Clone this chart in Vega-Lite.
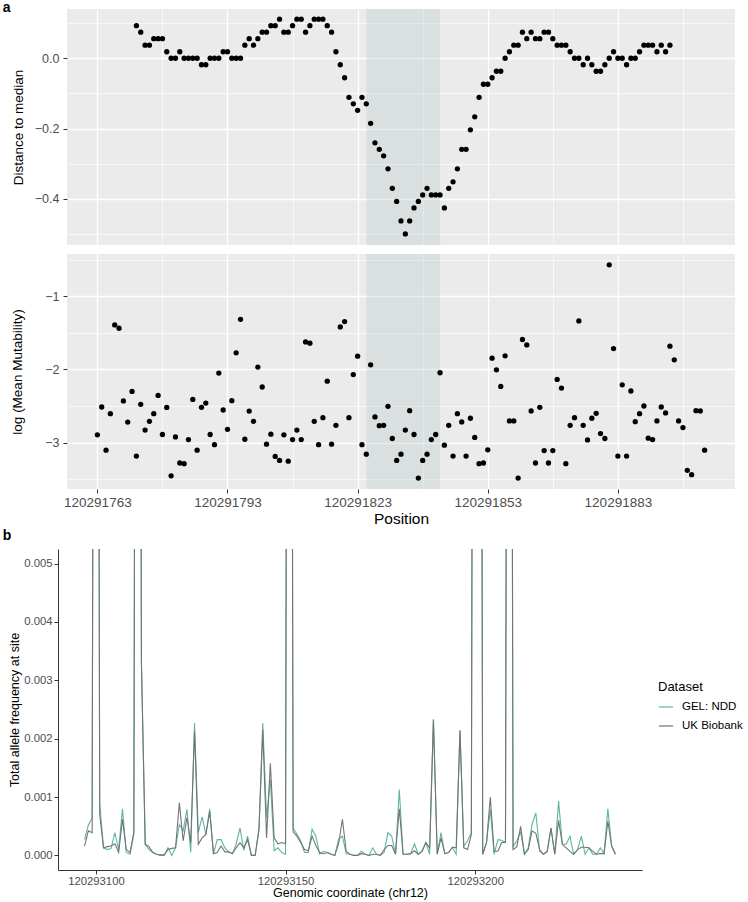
{
  "$schema": "https://vega.github.io/schema/vega-lite/v6.json",
  "background": "white",
  "padding": {"left": 2, "top": 1, "right": 2, "bottom": 2},
  "config": {
    "font": "Liberation Sans",
    "view": {"stroke": null},
    "axis": {"labelFont": "Liberation Sans", "titleFont": "Liberation Sans", "titleFontWeight": "normal", "labelColor": "#4D4D4D", "titleColor": "#000000", "tickColor": "#333333", "labelFlush": false, "labelOverlap": false},
    "title": {"font": "Liberation Sans", "fontWeight": "bold", "fontSize": 14, "anchor": "start", "color": "#000000"}
  },
  "datasets": {
    "shade": [{"pos": 120291825, "end": 120291842}],
    "dist": [
      {"pos":120291772,"distance":0.0925},{"pos":120291773,"distance":0.074},{"pos":120291774,"distance":0.037},{"pos":120291775,"distance":0.037},
      {"pos":120291776,"distance":0.0555},{"pos":120291777,"distance":0.0555},{"pos":120291778,"distance":0.0555},{"pos":120291779,"distance":0.0185},
      {"pos":120291780,"distance":0},{"pos":120291781,"distance":0},{"pos":120291782,"distance":0.0185},{"pos":120291783,"distance":0},
      {"pos":120291784,"distance":0},{"pos":120291785,"distance":0},{"pos":120291786,"distance":0},{"pos":120291787,"distance":-0.0185},
      {"pos":120291788,"distance":-0.0185},{"pos":120291789,"distance":0},{"pos":120291790,"distance":0},{"pos":120291791,"distance":0},
      {"pos":120291792,"distance":0.0185},{"pos":120291793,"distance":0.0185},{"pos":120291794,"distance":0},{"pos":120291795,"distance":0},
      {"pos":120291796,"distance":0},{"pos":120291797,"distance":0.037},{"pos":120291798,"distance":0.0555},{"pos":120291799,"distance":0.037},
      {"pos":120291800,"distance":0.0555},{"pos":120291801,"distance":0.074},{"pos":120291802,"distance":0.074},{"pos":120291803,"distance":0.0925},
      {"pos":120291804,"distance":0.0925},{"pos":120291805,"distance":0.111},{"pos":120291806,"distance":0.074},{"pos":120291807,"distance":0.074},
      {"pos":120291808,"distance":0.0925},{"pos":120291809,"distance":0.111},{"pos":120291810,"distance":0.111},{"pos":120291811,"distance":0.074},
      {"pos":120291812,"distance":0.0925},{"pos":120291813,"distance":0.111},{"pos":120291814,"distance":0.111},{"pos":120291815,"distance":0.111},
      {"pos":120291816,"distance":0.0925},{"pos":120291817,"distance":0.074},{"pos":120291818,"distance":0.0185},{"pos":120291819,"distance":-0.0185},
      {"pos":120291820,"distance":-0.0555},{"pos":120291821,"distance":-0.111},{"pos":120291822,"distance":-0.1295},{"pos":120291823,"distance":-0.148},
      {"pos":120291824,"distance":-0.111},{"pos":120291825,"distance":-0.1295},{"pos":120291826,"distance":-0.185},{"pos":120291827,"distance":-0.2405},
      {"pos":120291828,"distance":-0.259},{"pos":120291829,"distance":-0.2775},{"pos":120291830,"distance":-0.3145},{"pos":120291831,"distance":-0.37},
      {"pos":120291832,"distance":-0.407},{"pos":120291833,"distance":-0.4625},{"pos":120291834,"distance":-0.4995},{"pos":120291835,"distance":-0.4625},
      {"pos":120291836,"distance":-0.4255},{"pos":120291837,"distance":-0.407},{"pos":120291838,"distance":-0.3885},{"pos":120291839,"distance":-0.37},
      {"pos":120291840,"distance":-0.3885},{"pos":120291841,"distance":-0.3885},{"pos":120291842,"distance":-0.3885},{"pos":120291843,"distance":-0.4255},
      {"pos":120291844,"distance":-0.37},{"pos":120291845,"distance":-0.3515},{"pos":120291846,"distance":-0.3145},{"pos":120291847,"distance":-0.259},
      {"pos":120291848,"distance":-0.259},{"pos":120291849,"distance":-0.2035},{"pos":120291850,"distance":-0.1665},{"pos":120291851,"distance":-0.111},
      {"pos":120291852,"distance":-0.074},{"pos":120291853,"distance":-0.074},{"pos":120291854,"distance":-0.0555},{"pos":120291855,"distance":-0.037},
      {"pos":120291856,"distance":-0.037},{"pos":120291857,"distance":0},{"pos":120291858,"distance":0.0185},{"pos":120291859,"distance":0.037},
      {"pos":120291860,"distance":0.037},{"pos":120291861,"distance":0.074},{"pos":120291862,"distance":0.0555},{"pos":120291863,"distance":0.074},
      {"pos":120291864,"distance":0.0555},{"pos":120291865,"distance":0.0555},{"pos":120291866,"distance":0.074},{"pos":120291867,"distance":0.074},
      {"pos":120291868,"distance":0.0555},{"pos":120291869,"distance":0.037},{"pos":120291870,"distance":0.037},{"pos":120291871,"distance":0.037},
      {"pos":120291872,"distance":0.0185},{"pos":120291873,"distance":0},{"pos":120291874,"distance":0},{"pos":120291875,"distance":-0.0185},
      {"pos":120291876,"distance":0},{"pos":120291877,"distance":-0.0185},{"pos":120291878,"distance":-0.037},{"pos":120291879,"distance":-0.037},
      {"pos":120291880,"distance":-0.0185},{"pos":120291881,"distance":0},{"pos":120291882,"distance":0.0185},{"pos":120291883,"distance":0},
      {"pos":120291884,"distance":0},{"pos":120291885,"distance":-0.0185},{"pos":120291886,"distance":0},{"pos":120291887,"distance":0},
      {"pos":120291888,"distance":0.0185},{"pos":120291889,"distance":0.037},{"pos":120291890,"distance":0.037},{"pos":120291891,"distance":0.037},
      {"pos":120291892,"distance":0.0185},{"pos":120291893,"distance":0.037},{"pos":120291894,"distance":0.0185},{"pos":120291895,"distance":0.037}
    ],
    "mut": [
      {"pos":120291763,"logmut":-2.895},{"pos":120291764,"logmut":-2.514},{"pos":120291765,"logmut":-3.105},{"pos":120291766,"logmut":-2.605},
      {"pos":120291767,"logmut":-1.39},{"pos":120291768,"logmut":-1.436},{"pos":120291769,"logmut":-2.43},{"pos":120291770,"logmut":-2.72},
      {"pos":120291771,"logmut":-2.3},{"pos":120291772,"logmut":-3.186},{"pos":120291773,"logmut":-2.477},{"pos":120291774,"logmut":-2.83},
      {"pos":120291775,"logmut":-2.71},{"pos":120291776,"logmut":-2.605},{"pos":120291777,"logmut":-2.355},{"pos":120291778,"logmut":-2.89},
      {"pos":120291779,"logmut":-2.52},{"pos":120291780,"logmut":-3.455},{"pos":120291781,"logmut":-2.923},{"pos":120291782,"logmut":-3.28},
      {"pos":120291783,"logmut":-3.29},{"pos":120291784,"logmut":-2.96},{"pos":120291785,"logmut":-2.41},{"pos":120291786,"logmut":-3.105},
      {"pos":120291787,"logmut":-2.518},{"pos":120291788,"logmut":-2.46},{"pos":120291789,"logmut":-2.89},{"pos":120291790,"logmut":-3.03},
      {"pos":120291791,"logmut":-2.05},{"pos":120291792,"logmut":-2.555},{"pos":120291793,"logmut":-2.82},{"pos":120291794,"logmut":-2.427},
      {"pos":120291795,"logmut":-1.773},{"pos":120291796,"logmut":-1.314},{"pos":120291797,"logmut":-2.955},{"pos":120291798,"logmut":-2.57},
      {"pos":120291799,"logmut":-2.71},{"pos":120291800,"logmut":-1.968},{"pos":120291801,"logmut":-2.24},{"pos":120291802,"logmut":-3.023},
      {"pos":120291803,"logmut":-2.886},{"pos":120291804,"logmut":-3.19},{"pos":120291805,"logmut":-3.245},{"pos":120291806,"logmut":-2.895},
      {"pos":120291807,"logmut":-3.255},{"pos":120291808,"logmut":-2.96},{"pos":120291809,"logmut":-2.83},{"pos":120291810,"logmut":-2.96},
      {"pos":120291811,"logmut":-1.623},{"pos":120291812,"logmut":-1.64},{"pos":120291813,"logmut":-2.71},{"pos":120291814,"logmut":-3.03},
      {"pos":120291815,"logmut":-2.66},{"pos":120291816,"logmut":-2.16},{"pos":120291817,"logmut":-3.023},{"pos":120291818,"logmut":-2.764},
      {"pos":120291819,"logmut":-1.418},{"pos":120291820,"logmut":-1.345},{"pos":120291821,"logmut":-2.66},{"pos":120291822,"logmut":-2.07},
      {"pos":120291823,"logmut":-1.818},{"pos":120291824,"logmut":-3.03},{"pos":120291825,"logmut":-3.16},{"pos":120291826,"logmut":-1.936},
      {"pos":120291827,"logmut":-2.65},{"pos":120291828,"logmut":-2.77},{"pos":120291829,"logmut":-2.764},{"pos":120291830,"logmut":-2.505},
      {"pos":120291831,"logmut":-2.945},{"pos":120291832,"logmut":-3.245},{"pos":120291833,"logmut":-3.16},{"pos":120291834,"logmut":-2.83},
      {"pos":120291835,"logmut":-2.564},{"pos":120291836,"logmut":-2.89},{"pos":120291837,"logmut":-3.486},{"pos":120291838,"logmut":-3.245},
      {"pos":120291839,"logmut":-3.16},{"pos":120291840,"logmut":-2.96},{"pos":120291841,"logmut":-2.89},{"pos":120291842,"logmut":-2.045},
      {"pos":120291843,"logmut":-3.036},{"pos":120291844,"logmut":-2.764},{"pos":120291845,"logmut":-3.186},{"pos":120291846,"logmut":-2.605},
      {"pos":120291847,"logmut":-2.718},{"pos":120291848,"logmut":-3.186},{"pos":120291849,"logmut":-2.668},{"pos":120291850,"logmut":-2.93},
      {"pos":120291851,"logmut":-3.29},{"pos":120291852,"logmut":-3.28},{"pos":120291853,"logmut":-3.1},{"pos":120291854,"logmut":-1.845},
      {"pos":120291855,"logmut":-2.005},{"pos":120291856,"logmut":-2.232},{"pos":120291857,"logmut":-1.814},{"pos":120291858,"logmut":-2.705},
      {"pos":120291859,"logmut":-2.705},{"pos":120291860,"logmut":-3.486},{"pos":120291861,"logmut":-1.59},{"pos":120291862,"logmut":-1.664},
      {"pos":120291863,"logmut":-2.568},{"pos":120291864,"logmut":-3.28},{"pos":120291865,"logmut":-2.518},{"pos":120291866,"logmut":-3.11},
      {"pos":120291867,"logmut":-3.28},{"pos":120291868,"logmut":-3.11},{"pos":120291869,"logmut":-2.136},{"pos":120291870,"logmut":-2.255},
      {"pos":120291871,"logmut":-3.29},{"pos":120291872,"logmut":-2.764},{"pos":120291873,"logmut":-2.66},{"pos":120291874,"logmut":-1.336},
      {"pos":120291875,"logmut":-2.764},{"pos":120291876,"logmut":-2.964},{"pos":120291877,"logmut":-2.668},{"pos":120291878,"logmut":-2.6},
      {"pos":120291879,"logmut":-2.877},{"pos":120291880,"logmut":-2.945},{"pos":120291881,"logmut":-0.568},{"pos":120291882,"logmut":-1.714},
      {"pos":120291883,"logmut":-3.186},{"pos":120291884,"logmut":-2.21},{"pos":120291885,"logmut":-3.186},{"pos":120291886,"logmut":-2.295},
      {"pos":120291887,"logmut":-2.714},{"pos":120291888,"logmut":-2.605},{"pos":120291889,"logmut":-2.5},{"pos":120291890,"logmut":-2.94},
      {"pos":120291891,"logmut":-2.96},{"pos":120291892,"logmut":-2.705},{"pos":120291893,"logmut":-2.514},{"pos":120291894,"logmut":-2.595},
      {"pos":120291895,"logmut":-1.682},{"pos":120291896,"logmut":-1.868},{"pos":120291897,"logmut":-2.705},{"pos":120291898,"logmut":-2.795},
      {"pos":120291899,"logmut":-3.38},{"pos":120291900,"logmut":-3.44},{"pos":120291901,"logmut":-2.564},{"pos":120291902,"logmut":-2.568},
      {"pos":120291903,"logmut":-3.105}
    ],
    "af": [
      {"pos":120293097,"dataset":"GEL: NDD","af":0.00027},{"pos":120293098,"dataset":"GEL: NDD","af":0.00052},{"pos":120293099,"dataset":"GEL: NDD","af":0.00064},{"pos":120293100,"dataset":"GEL: NDD","af":0.03},
      {"pos":120293101,"dataset":"GEL: NDD","af":0.0009},{"pos":120293102,"dataset":"GEL: NDD","af":0.00013},{"pos":120293103,"dataset":"GEL: NDD","af":0.0001},{"pos":120293104,"dataset":"GEL: NDD","af":0.00012},
      {"pos":120293105,"dataset":"GEL: NDD","af":0.00039},{"pos":120293106,"dataset":"GEL: NDD","af":0.0001},{"pos":120293107,"dataset":"GEL: NDD","af":0.0008},{"pos":120293108,"dataset":"GEL: NDD","af":0.00005},
      {"pos":120293109,"dataset":"GEL: NDD","af":0.00002},{"pos":120293110,"dataset":"GEL: NDD","af":0.00036},{"pos":120293111,"dataset":"GEL: NDD","af":0.03},{"pos":120293112,"dataset":"GEL: NDD","af":0.0033},
      {"pos":120293113,"dataset":"GEL: NDD","af":0.00019},{"pos":120293114,"dataset":"GEL: NDD","af":0.0001},{"pos":120293115,"dataset":"GEL: NDD","af":0.00005},{"pos":120293116,"dataset":"GEL: NDD","af":0.00002},
      {"pos":120293117,"dataset":"GEL: NDD","af":0},{"pos":120293118,"dataset":"GEL: NDD","af":0},{"pos":120293119,"dataset":"GEL: NDD","af":0.00013},{"pos":120293120,"dataset":"GEL: NDD","af":0},
      {"pos":120293121,"dataset":"GEL: NDD","af":0.00013},{"pos":120293122,"dataset":"GEL: NDD","af":0.00053},{"pos":120293123,"dataset":"GEL: NDD","af":0.00042},{"pos":120293124,"dataset":"GEL: NDD","af":0.00079},
      {"pos":120293125,"dataset":"GEL: NDD","af":0.00005},{"pos":120293126,"dataset":"GEL: NDD","af":0.00227},{"pos":120293127,"dataset":"GEL: NDD","af":0.00039},{"pos":120293128,"dataset":"GEL: NDD","af":0.00066},
      {"pos":120293129,"dataset":"GEL: NDD","af":0.00036},{"pos":120293130,"dataset":"GEL: NDD","af":0.0008},{"pos":120293131,"dataset":"GEL: NDD","af":0.00003},{"pos":120293132,"dataset":"GEL: NDD","af":0.00027},
      {"pos":120293133,"dataset":"GEL: NDD","af":0.00027},{"pos":120293134,"dataset":"GEL: NDD","af":0.00013},{"pos":120293135,"dataset":"GEL: NDD","af":0.00006},{"pos":120293136,"dataset":"GEL: NDD","af":0.00003},
      {"pos":120293137,"dataset":"GEL: NDD","af":0.0002},{"pos":120293138,"dataset":"GEL: NDD","af":0.00047},{"pos":120293139,"dataset":"GEL: NDD","af":0.00009},{"pos":120293140,"dataset":"GEL: NDD","af":0.00033},
      {"pos":120293141,"dataset":"GEL: NDD","af":0},{"pos":120293142,"dataset":"GEL: NDD","af":0},{"pos":120293143,"dataset":"GEL: NDD","af":0.00045},{"pos":120293144,"dataset":"GEL: NDD","af":0.00227},
      {"pos":120293145,"dataset":"GEL: NDD","af":0.00065},{"pos":120293146,"dataset":"GEL: NDD","af":0.0013},{"pos":120293147,"dataset":"GEL: NDD","af":0.00008},{"pos":120293148,"dataset":"GEL: NDD","af":0.00013},
      {"pos":120293149,"dataset":"GEL: NDD","af":0.00005},{"pos":120293150,"dataset":"GEL: NDD","af":0.00002},{"pos":120293151,"dataset":"GEL: NDD","af":0.03},{"pos":120293152,"dataset":"GEL: NDD","af":0.00047},
      {"pos":120293153,"dataset":"GEL: NDD","af":0.00036},{"pos":120293154,"dataset":"GEL: NDD","af":0.00025},{"pos":120293155,"dataset":"GEL: NDD","af":0.00005},{"pos":120293156,"dataset":"GEL: NDD","af":0.00005},
      {"pos":120293157,"dataset":"GEL: NDD","af":0.00045},{"pos":120293158,"dataset":"GEL: NDD","af":0.00033},{"pos":120293159,"dataset":"GEL: NDD","af":0.00002},{"pos":120293160,"dataset":"GEL: NDD","af":0.00007},
      {"pos":120293161,"dataset":"GEL: NDD","af":0.00005},{"pos":120293162,"dataset":"GEL: NDD","af":0.00002},{"pos":120293163,"dataset":"GEL: NDD","af":0},{"pos":120293164,"dataset":"GEL: NDD","af":0.00028},
      {"pos":120293165,"dataset":"GEL: NDD","af":0.00033},{"pos":120293166,"dataset":"GEL: NDD","af":0.00003},{"pos":120293167,"dataset":"GEL: NDD","af":0.00002},{"pos":120293168,"dataset":"GEL: NDD","af":0},
      {"pos":120293169,"dataset":"GEL: NDD","af":0},{"pos":120293170,"dataset":"GEL: NDD","af":0.00007},{"pos":120293171,"dataset":"GEL: NDD","af":0.00002},{"pos":120293172,"dataset":"GEL: NDD","af":0},
      {"pos":120293173,"dataset":"GEL: NDD","af":0.00013},{"pos":120293174,"dataset":"GEL: NDD","af":0.00002},{"pos":120293175,"dataset":"GEL: NDD","af":0},{"pos":120293176,"dataset":"GEL: NDD","af":0.00005},
      {"pos":120293177,"dataset":"GEL: NDD","af":0.00039},{"pos":120293178,"dataset":"GEL: NDD","af":0.00033},{"pos":120293179,"dataset":"GEL: NDD","af":0.00002},{"pos":120293180,"dataset":"GEL: NDD","af":0.00113},
      {"pos":120293181,"dataset":"GEL: NDD","af":0.00002},{"pos":120293182,"dataset":"GEL: NDD","af":0.00002},{"pos":120293183,"dataset":"GEL: NDD","af":0.00003},{"pos":120293184,"dataset":"GEL: NDD","af":0.0002},
      {"pos":120293185,"dataset":"GEL: NDD","af":0.00002},{"pos":120293186,"dataset":"GEL: NDD","af":0.00007},{"pos":120293187,"dataset":"GEL: NDD","af":0.00022},{"pos":120293188,"dataset":"GEL: NDD","af":0.00002},
      {"pos":120293189,"dataset":"GEL: NDD","af":0.00233},{"pos":120293190,"dataset":"GEL: NDD","af":0.00002},{"pos":120293191,"dataset":"GEL: NDD","af":0.00039},{"pos":120293192,"dataset":"GEL: NDD","af":0.00003},
      {"pos":120293193,"dataset":"GEL: NDD","af":0.00005},{"pos":120293194,"dataset":"GEL: NDD","af":0.00014},{"pos":120293195,"dataset":"GEL: NDD","af":0.00002},{"pos":120293196,"dataset":"GEL: NDD","af":0.00214},
      {"pos":120293197,"dataset":"GEL: NDD","af":0.00016},{"pos":120293198,"dataset":"GEL: NDD","af":0.00025},{"pos":120293199,"dataset":"GEL: NDD","af":0.00039},{"pos":120293200,"dataset":"GEL: NDD","af":0.03},
      {"pos":120293201,"dataset":"GEL: NDD","af":0.03},{"pos":120293202,"dataset":"GEL: NDD","af":0.00002},{"pos":120293203,"dataset":"GEL: NDD","af":0.00022},{"pos":120293204,"dataset":"GEL: NDD","af":0.00079},
      {"pos":120293205,"dataset":"GEL: NDD","af":0.00002},{"pos":120293206,"dataset":"GEL: NDD","af":0.00027},{"pos":120293207,"dataset":"GEL: NDD","af":0.00026},{"pos":120293208,"dataset":"GEL: NDD","af":0.00022},
      {"pos":120293209,"dataset":"GEL: NDD","af":0.03},{"pos":120293210,"dataset":"GEL: NDD","af":0.00015},{"pos":120293211,"dataset":"GEL: NDD","af":0.00025},{"pos":120293212,"dataset":"GEL: NDD","af":0.0004},
      {"pos":120293213,"dataset":"GEL: NDD","af":0.00002},{"pos":120293214,"dataset":"GEL: NDD","af":0.00013},{"pos":120293215,"dataset":"GEL: NDD","af":0.00053},{"pos":120293216,"dataset":"GEL: NDD","af":0.00073},
      {"pos":120293217,"dataset":"GEL: NDD","af":0.00007},{"pos":120293218,"dataset":"GEL: NDD","af":0.00002},{"pos":120293219,"dataset":"GEL: NDD","af":0.00007},{"pos":120293220,"dataset":"GEL: NDD","af":0.00047},
      {"pos":120293221,"dataset":"GEL: NDD","af":0.00002},{"pos":120293222,"dataset":"GEL: NDD","af":0.00093},{"pos":120293223,"dataset":"GEL: NDD","af":0.00019},{"pos":120293224,"dataset":"GEL: NDD","af":0.00019},
      {"pos":120293225,"dataset":"GEL: NDD","af":0.00033},{"pos":120293226,"dataset":"GEL: NDD","af":0.00002},{"pos":120293227,"dataset":"GEL: NDD","af":0.0001},{"pos":120293228,"dataset":"GEL: NDD","af":0.00033},
      {"pos":120293229,"dataset":"GEL: NDD","af":0.00002},{"pos":120293230,"dataset":"GEL: NDD","af":0.00013},{"pos":120293231,"dataset":"GEL: NDD","af":0.00002},{"pos":120293232,"dataset":"GEL: NDD","af":0.00002},
      {"pos":120293233,"dataset":"GEL: NDD","af":0.00013},{"pos":120293234,"dataset":"GEL: NDD","af":0.00003},{"pos":120293235,"dataset":"GEL: NDD","af":0.0008},{"pos":120293236,"dataset":"GEL: NDD","af":0.00016},
      {"pos":120293237,"dataset":"GEL: NDD","af":0.00002},
      {"pos":120293097,"dataset":"UK Biobank","af":0.00016},{"pos":120293098,"dataset":"UK Biobank","af":0.00042},{"pos":120293099,"dataset":"UK Biobank","af":0.00039},{"pos":120293100,"dataset":"UK Biobank","af":0.03},
      {"pos":120293101,"dataset":"UK Biobank","af":0.0007},{"pos":120293102,"dataset":"UK Biobank","af":0.00013},{"pos":120293103,"dataset":"UK Biobank","af":0.00015},{"pos":120293104,"dataset":"UK Biobank","af":0.00016},
      {"pos":120293105,"dataset":"UK Biobank","af":0.0002},{"pos":120293106,"dataset":"UK Biobank","af":0.00005},{"pos":120293107,"dataset":"UK Biobank","af":0.00062},{"pos":120293108,"dataset":"UK Biobank","af":0.0001},
      {"pos":120293109,"dataset":"UK Biobank","af":0.00005},{"pos":120293110,"dataset":"UK Biobank","af":0.0004},{"pos":120293111,"dataset":"UK Biobank","af":0.03},{"pos":120293112,"dataset":"UK Biobank","af":0.0033},
      {"pos":120293113,"dataset":"UK Biobank","af":0.00019},{"pos":120293114,"dataset":"UK Biobank","af":0.00015},{"pos":120293115,"dataset":"UK Biobank","af":0.00005},{"pos":120293116,"dataset":"UK Biobank","af":0.00002},
      {"pos":120293117,"dataset":"UK Biobank","af":0.00001},{"pos":120293118,"dataset":"UK Biobank","af":0.00001},{"pos":120293119,"dataset":"UK Biobank","af":0.0001},{"pos":120293120,"dataset":"UK Biobank","af":0.00012},
      {"pos":120293121,"dataset":"UK Biobank","af":0.00013},{"pos":120293122,"dataset":"UK Biobank","af":0.0009},{"pos":120293123,"dataset":"UK Biobank","af":0.00025},{"pos":120293124,"dataset":"UK Biobank","af":0.00065},
      {"pos":120293125,"dataset":"UK Biobank","af":0.00022},{"pos":120293126,"dataset":"UK Biobank","af":0.00213},{"pos":120293127,"dataset":"UK Biobank","af":0.00019},{"pos":120293128,"dataset":"UK Biobank","af":0.0003},
      {"pos":120293129,"dataset":"UK Biobank","af":0.00036},{"pos":120293130,"dataset":"UK Biobank","af":0.00075},{"pos":120293131,"dataset":"UK Biobank","af":0.00003},{"pos":120293132,"dataset":"UK Biobank","af":0.00005},
      {"pos":120293133,"dataset":"UK Biobank","af":0.00016},{"pos":120293134,"dataset":"UK Biobank","af":0.00006},{"pos":120293135,"dataset":"UK Biobank","af":0.00006},{"pos":120293136,"dataset":"UK Biobank","af":0.00003},
      {"pos":120293137,"dataset":"UK Biobank","af":0.00013},{"pos":120293138,"dataset":"UK Biobank","af":0.00022},{"pos":120293139,"dataset":"UK Biobank","af":0.00013},{"pos":120293140,"dataset":"UK Biobank","af":0.00027},
      {"pos":120293141,"dataset":"UK Biobank","af":0},{"pos":120293142,"dataset":"UK Biobank","af":0},{"pos":120293143,"dataset":"UK Biobank","af":0.00045},{"pos":120293144,"dataset":"UK Biobank","af":0.00215},
      {"pos":120293145,"dataset":"UK Biobank","af":0.0003},{"pos":120293146,"dataset":"UK Biobank","af":0.00158},{"pos":120293147,"dataset":"UK Biobank","af":0.0003},{"pos":120293148,"dataset":"UK Biobank","af":0.0002},
      {"pos":120293149,"dataset":"UK Biobank","af":0.00022},{"pos":120293150,"dataset":"UK Biobank","af":0.0002},{"pos":120293151,"dataset":"UK Biobank","af":0.03},{"pos":120293152,"dataset":"UK Biobank","af":0.0004},
      {"pos":120293153,"dataset":"UK Biobank","af":0.00033},{"pos":120293154,"dataset":"UK Biobank","af":0.00022},{"pos":120293155,"dataset":"UK Biobank","af":0.0001},{"pos":120293156,"dataset":"UK Biobank","af":0.00008},
      {"pos":120293157,"dataset":"UK Biobank","af":0.00033},{"pos":120293158,"dataset":"UK Biobank","af":0.00017},{"pos":120293159,"dataset":"UK Biobank","af":0.00005},{"pos":120293160,"dataset":"UK Biobank","af":0.00003},
      {"pos":120293161,"dataset":"UK Biobank","af":0.00005},{"pos":120293162,"dataset":"UK Biobank","af":0.00002},{"pos":120293163,"dataset":"UK Biobank","af":0},{"pos":120293164,"dataset":"UK Biobank","af":0.0002},
      {"pos":120293165,"dataset":"UK Biobank","af":0.00062},{"pos":120293166,"dataset":"UK Biobank","af":0.00007},{"pos":120293167,"dataset":"UK Biobank","af":0.00002},{"pos":120293168,"dataset":"UK Biobank","af":0},
      {"pos":120293169,"dataset":"UK Biobank","af":0},{"pos":120293170,"dataset":"UK Biobank","af":0.00003},{"pos":120293171,"dataset":"UK Biobank","af":0.00002},{"pos":120293172,"dataset":"UK Biobank","af":0},
      {"pos":120293173,"dataset":"UK Biobank","af":0.00002},{"pos":120293174,"dataset":"UK Biobank","af":0.00002},{"pos":120293175,"dataset":"UK Biobank","af":0},{"pos":120293176,"dataset":"UK Biobank","af":0.0001},
      {"pos":120293177,"dataset":"UK Biobank","af":0.00017},{"pos":120293178,"dataset":"UK Biobank","af":0.00017},{"pos":120293179,"dataset":"UK Biobank","af":0.00002},{"pos":120293180,"dataset":"UK Biobank","af":0.0008},
      {"pos":120293181,"dataset":"UK Biobank","af":0.00002},{"pos":120293182,"dataset":"UK Biobank","af":0.00002},{"pos":120293183,"dataset":"UK Biobank","af":0.00003},{"pos":120293184,"dataset":"UK Biobank","af":0.00008},
      {"pos":120293185,"dataset":"UK Biobank","af":0.00002},{"pos":120293186,"dataset":"UK Biobank","af":0.00007},{"pos":120293187,"dataset":"UK Biobank","af":0.00022},{"pos":120293188,"dataset":"UK Biobank","af":0.00013},
      {"pos":120293189,"dataset":"UK Biobank","af":0.00233},{"pos":120293190,"dataset":"UK Biobank","af":0.00002},{"pos":120293191,"dataset":"UK Biobank","af":0.0003},{"pos":120293192,"dataset":"UK Biobank","af":0.00003},
      {"pos":120293193,"dataset":"UK Biobank","af":0.00005},{"pos":120293194,"dataset":"UK Biobank","af":0.00014},{"pos":120293195,"dataset":"UK Biobank","af":0.00013},{"pos":120293196,"dataset":"UK Biobank","af":0.00214},
      {"pos":120293197,"dataset":"UK Biobank","af":0.00013},{"pos":120293198,"dataset":"UK Biobank","af":0.0001},{"pos":120293199,"dataset":"UK Biobank","af":0.00036},{"pos":120293200,"dataset":"UK Biobank","af":0.03},
      {"pos":120293201,"dataset":"UK Biobank","af":0.03},{"pos":120293202,"dataset":"UK Biobank","af":0.00002},{"pos":120293203,"dataset":"UK Biobank","af":0.00022},{"pos":120293204,"dataset":"UK Biobank","af":0.001},
      {"pos":120293205,"dataset":"UK Biobank","af":0.00007},{"pos":120293206,"dataset":"UK Biobank","af":0.00007},{"pos":120293207,"dataset":"UK Biobank","af":0.00022},{"pos":120293208,"dataset":"UK Biobank","af":0.00022},
      {"pos":120293209,"dataset":"UK Biobank","af":0.03},{"pos":120293210,"dataset":"UK Biobank","af":0.0001},{"pos":120293211,"dataset":"UK Biobank","af":0.00015},{"pos":120293212,"dataset":"UK Biobank","af":0.0005},
      {"pos":120293213,"dataset":"UK Biobank","af":0.00002},{"pos":120293214,"dataset":"UK Biobank","af":0.0001},{"pos":120293215,"dataset":"UK Biobank","af":0.00042},{"pos":120293216,"dataset":"UK Biobank","af":0.00038},
      {"pos":120293217,"dataset":"UK Biobank","af":0.0001},{"pos":120293218,"dataset":"UK Biobank","af":0.00002},{"pos":120293219,"dataset":"UK Biobank","af":0.00007},{"pos":120293220,"dataset":"UK Biobank","af":0.00047},
      {"pos":120293221,"dataset":"UK Biobank","af":0.00002},{"pos":120293222,"dataset":"UK Biobank","af":0.0006},{"pos":120293223,"dataset":"UK Biobank","af":0.00019},{"pos":120293224,"dataset":"UK Biobank","af":0.00013},
      {"pos":120293225,"dataset":"UK Biobank","af":0.00007},{"pos":120293226,"dataset":"UK Biobank","af":0.00002},{"pos":120293227,"dataset":"UK Biobank","af":0.0001},{"pos":120293228,"dataset":"UK Biobank","af":0.00014},
      {"pos":120293229,"dataset":"UK Biobank","af":0.00014},{"pos":120293230,"dataset":"UK Biobank","af":0.00013},{"pos":120293231,"dataset":"UK Biobank","af":0.00007},{"pos":120293232,"dataset":"UK Biobank","af":0.00002},
      {"pos":120293233,"dataset":"UK Biobank","af":0.00003},{"pos":120293234,"dataset":"UK Biobank","af":0.00003},{"pos":120293235,"dataset":"UK Biobank","af":0.00059},{"pos":120293236,"dataset":"UK Biobank","af":0.00016},
      {"pos":120293237,"dataset":"UK Biobank","af":0.00002}
    ]
  },
  "spacing": 2,
  "vconcat": [
    {
      "title": {"text": "a", "dx": -8, "offset": -6},
      "spacing": 8,
      "vconcat": [
        {
          "width": 668,
          "height": 236,
          "view": {"fill": "#EBEBEB", "stroke": null},
          "encoding": {
            "x": {"field": "pos", "type": "quantitative",
              "scale": {"domain": [120291756, 120291910], "nice": false, "zero": false},
              "axis": {"title": null, "labels": false, "ticks": false, "domain": false, "grid": true,
                "values": [120291763, 120291778, 120291793, 120291808, 120291823, 120291838, 120291853, 120291868, 120291883, 120291898],
                "gridColor": "#FFFFFF",
                "gridWidth": {"condition": {"test": "(datum.value - 120291763) % 30 === 0", "value": 1.3}, "value": 0.65}}}
          },
          "layer": [
            {"data": {"name": "shade"}, "mark": {"type": "rect", "fill": "#B4C6C6", "opacity": 0.3}, "encoding": {"x2": {"field": "end"}}},
            {"data": {"name": "dist"}, "mark": {"type": "circle", "size": 28, "color": "#000000", "opacity": 1},
              "encoding": {"y": {"field": "distance", "type": "quantitative",
                "scale": {"domain": [-0.531, 0.14], "nice": false, "zero": false},
                "axis": {"title": "Distance to median", "values": [-0.5, -0.4, -0.3, -0.2, -0.1, 0, 0.1],
                  "labelExpr": "abs(round(datum.value * 10)) % 2 === 0 ? format(datum.value, '.1f') : ''",
                  "labelFontSize": 12.5, "titleFontSize": 13.5, "titlePadding": 9, "labelPadding": 4, "tickSize": 4, "domain": false,
                  "tickOpacity": {"condition": {"test": "abs(round(datum.value * 10)) % 2 === 0", "value": 1}, "value": 0},
                  "gridColor": "#FFFFFF",
                  "gridWidth": {"condition": {"test": "abs(round(datum.value * 10)) % 2 === 0", "value": 1.3}, "value": 0.65}}}}}
          ]
        },
        {
          "width": 668,
          "height": 235,
          "view": {"fill": "#EBEBEB", "stroke": null},
          "encoding": {
            "x": {"field": "pos", "type": "quantitative",
              "scale": {"domain": [120291756, 120291910], "nice": false, "zero": false},
              "axis": {"title": "Position", "domain": false, "grid": true,
                "values": [120291763, 120291778, 120291793, 120291808, 120291823, 120291838, 120291853, 120291868, 120291883, 120291898],
                "labelExpr": "(datum.value - 120291763) % 30 === 0 ? format(datum.value, 'd') : ''",
                "labelFontSize": 13.5, "titleFontSize": 15.5, "titlePadding": 3, "labelPadding": 2, "tickSize": 4,
                "tickOpacity": {"condition": {"test": "(datum.value - 120291763) % 30 === 0", "value": 1}, "value": 0},
                "gridColor": "#FFFFFF",
                "gridWidth": {"condition": {"test": "(datum.value - 120291763) % 30 === 0", "value": 1.3}, "value": 0.65}}}
          },
          "layer": [
            {"data": {"name": "shade"}, "mark": {"type": "rect", "fill": "#B4C6C6", "opacity": 0.3}, "encoding": {"x2": {"field": "end"}}},
            {"data": {"name": "mut"}, "mark": {"type": "circle", "size": 28, "color": "#000000", "opacity": 1},
              "encoding": {"y": {"field": "logmut", "type": "quantitative",
                "scale": {"domain": [-3.636, -0.42], "nice": false, "zero": false},
                "axis": {"title": "log (Mean Mutability)", "values": [-3.5, -3, -2.5, -2, -1.5, -1, -0.5],
                  "labelExpr": "datum.value === round(datum.value) ? format(datum.value, 'd') : ''",
                  "labelFontSize": 12.5, "titleFontSize": 13.5, "titlePadding": 20, "labelPadding": 4, "tickSize": 4, "domain": false,
                  "tickOpacity": {"condition": {"test": "datum.value === round(datum.value)", "value": 1}, "value": 0},
                  "gridColor": "#FFFFFF",
                  "gridWidth": {"condition": {"test": "datum.value === round(datum.value)", "value": 1.3}, "value": 0.65}}}}}
          ]
        }
      ]
    },
    {
      "title": {"text": "b", "dx": -6, "offset": 6},
      "vconcat": [
        {
          "width": 575,
          "height": 321,
          "data": {"name": "af"},
          "mark": {"type": "line", "strokeWidth": 1.1, "clip": true},
          "encoding": {
            "x": {"field": "pos", "type": "quantitative",
              "scale": {"domain": [120293090, 120293244], "range": [-9, 575], "nice": false, "zero": false},
              "axis": {"title": "Genomic coordinate (chr12)", "values": [120293100, 120293150, 120293200], "format": "d",
                "grid": false, "domain": true, "domainColor": "#333333", "domainWidth": 1, "tickSize": 4, "tickColor": "#333333",
                "labelFontSize": 11.3, "labelPadding": 1, "titleFontSize": 12.5, "titlePadding": 0}},
            "y": {"field": "af", "type": "quantitative",
              "scale": {"domain": [-0.00025, 0.00525], "nice": false, "zero": false},
              "axis": {"title": "Total allele frequency at site", "values": [0, 0.001, 0.002, 0.003, 0.004, 0.005], "format": ".3f",
                "offset": 9, "grid": false, "domain": true, "domainColor": "#333333", "domainWidth": 1, "tickSize": 4, "tickColor": "#333333",
                "labelFontSize": 11.3, "labelPadding": 2, "titleFontSize": 12.5, "titlePadding": 2}},
            "color": {"field": "dataset", "type": "nominal",
              "scale": {"domain": ["GEL: NDD", "UK Biobank"], "range": ["#5FB5A5", "#747474"]},
              "legend": {"title": "Dataset", "orient": "none", "legendX": 591, "legendY": 672,
                "symbolType": "stroke", "symbolSize": 200, "symbolStrokeWidth": 1.2,
                "labelFontSize": 11.5, "titleFontSize": 13, "titleFontWeight": "normal", "titleColor": "#000000", "labelColor": "#000000",
                "labelOffset": 8, "rowPadding": 5, "titlePadding": 5}}
          }
        }
      ]
    }
  ]
}
